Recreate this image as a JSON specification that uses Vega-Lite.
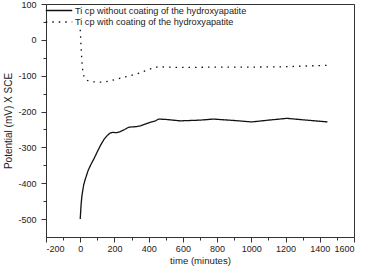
{
  "$schema": "https://vega.github.io/schema/vega-lite/v6.json",
  "width": 308,
  "height": 233,
  "autosize": {"type": "none"},
  "padding": {"left": 46, "top": 4, "right": 13, "bottom": 29},
  "background": "white",
  "config": {
    "view": {"stroke": "#333", "strokeWidth": 1},
    "font": "Liberation Sans",
    "axis": {"grid": false, "domainColor": "#333", "tickColor": "#333", "labelColor": "#222", "titleColor": "#222", "labelFont": "Liberation Sans", "titleFont": "Liberation Sans", "titleFontWeight": "normal", "labelFontSize": 9, "titleFontSize": 9.6}
  },
  "data": {
    "values": [
      {"series": "Ti cp without coating of the hydroxyapatite", "t": 0, "v": -500},
      {"series": "Ti cp without coating of the hydroxyapatite", "t": 5, "v": -460},
      {"series": "Ti cp without coating of the hydroxyapatite", "t": 10, "v": -435},
      {"series": "Ti cp without coating of the hydroxyapatite", "t": 20, "v": -405},
      {"series": "Ti cp without coating of the hydroxyapatite", "t": 30, "v": -388},
      {"series": "Ti cp without coating of the hydroxyapatite", "t": 45, "v": -366},
      {"series": "Ti cp without coating of the hydroxyapatite", "t": 60, "v": -350},
      {"series": "Ti cp without coating of the hydroxyapatite", "t": 80, "v": -332},
      {"series": "Ti cp without coating of the hydroxyapatite", "t": 100, "v": -312},
      {"series": "Ti cp without coating of the hydroxyapatite", "t": 120, "v": -293},
      {"series": "Ti cp without coating of the hydroxyapatite", "t": 140, "v": -277},
      {"series": "Ti cp without coating of the hydroxyapatite", "t": 160, "v": -266},
      {"series": "Ti cp without coating of the hydroxyapatite", "t": 175, "v": -260},
      {"series": "Ti cp without coating of the hydroxyapatite", "t": 190, "v": -258},
      {"series": "Ti cp without coating of the hydroxyapatite", "t": 210, "v": -259},
      {"series": "Ti cp without coating of the hydroxyapatite", "t": 234, "v": -256},
      {"series": "Ti cp without coating of the hydroxyapatite", "t": 260, "v": -250},
      {"series": "Ti cp without coating of the hydroxyapatite", "t": 282, "v": -244},
      {"series": "Ti cp without coating of the hydroxyapatite", "t": 300, "v": -243},
      {"series": "Ti cp without coating of the hydroxyapatite", "t": 330, "v": -242},
      {"series": "Ti cp without coating of the hydroxyapatite", "t": 351, "v": -240},
      {"series": "Ti cp without coating of the hydroxyapatite", "t": 380, "v": -235},
      {"series": "Ti cp without coating of the hydroxyapatite", "t": 410, "v": -230},
      {"series": "Ti cp without coating of the hydroxyapatite", "t": 440, "v": -226},
      {"series": "Ti cp without coating of the hydroxyapatite", "t": 458, "v": -221},
      {"series": "Ti cp without coating of the hydroxyapatite", "t": 500, "v": -222},
      {"series": "Ti cp without coating of the hydroxyapatite", "t": 584, "v": -226},
      {"series": "Ti cp without coating of the hydroxyapatite", "t": 700, "v": -224},
      {"series": "Ti cp without coating of the hydroxyapatite", "t": 778, "v": -221},
      {"series": "Ti cp without coating of the hydroxyapatite", "t": 900, "v": -225},
      {"series": "Ti cp without coating of the hydroxyapatite", "t": 1003, "v": -229},
      {"series": "Ti cp without coating of the hydroxyapatite", "t": 1100, "v": -224},
      {"series": "Ti cp without coating of the hydroxyapatite", "t": 1208, "v": -219},
      {"series": "Ti cp without coating of the hydroxyapatite", "t": 1300, "v": -223},
      {"series": "Ti cp without coating of the hydroxyapatite", "t": 1445, "v": -229},
      {"series": "Ti cp with coating of the hydroxyapatite", "t": 0, "v": 28},
      {"series": "Ti cp with coating of the hydroxyapatite", "t": 3, "v": 0},
      {"series": "Ti cp with coating of the hydroxyapatite", "t": 6, "v": -30},
      {"series": "Ti cp with coating of the hydroxyapatite", "t": 9, "v": -55},
      {"series": "Ti cp with coating of the hydroxyapatite", "t": 12, "v": -75},
      {"series": "Ti cp with coating of the hydroxyapatite", "t": 16, "v": -89},
      {"series": "Ti cp with coating of the hydroxyapatite", "t": 22, "v": -102},
      {"series": "Ti cp with coating of the hydroxyapatite", "t": 29, "v": -110},
      {"series": "Ti cp with coating of the hydroxyapatite", "t": 45, "v": -114},
      {"series": "Ti cp with coating of the hydroxyapatite", "t": 70, "v": -117},
      {"series": "Ti cp with coating of the hydroxyapatite", "t": 100, "v": -118},
      {"series": "Ti cp with coating of the hydroxyapatite", "t": 135, "v": -118},
      {"series": "Ti cp with coating of the hydroxyapatite", "t": 170, "v": -115},
      {"series": "Ti cp with coating of the hydroxyapatite", "t": 210, "v": -110},
      {"series": "Ti cp with coating of the hydroxyapatite", "t": 250, "v": -105},
      {"series": "Ti cp with coating of the hydroxyapatite", "t": 290, "v": -100},
      {"series": "Ti cp with coating of the hydroxyapatite", "t": 331, "v": -95},
      {"series": "Ti cp with coating of the hydroxyapatite", "t": 370, "v": -88},
      {"series": "Ti cp with coating of the hydroxyapatite", "t": 410, "v": -81},
      {"series": "Ti cp with coating of the hydroxyapatite", "t": 456, "v": -75},
      {"series": "Ti cp with coating of the hydroxyapatite", "t": 500, "v": -76},
      {"series": "Ti cp with coating of the hydroxyapatite", "t": 600, "v": -77},
      {"series": "Ti cp with coating of the hydroxyapatite", "t": 800, "v": -76},
      {"series": "Ti cp with coating of the hydroxyapatite", "t": 1000, "v": -76},
      {"series": "Ti cp with coating of the hydroxyapatite", "t": 1200, "v": -75},
      {"series": "Ti cp with coating of the hydroxyapatite", "t": 1445, "v": -71}
    ]
  },
  "layer": [
    {
      "mark": {"type": "line", "color": "#111", "strokeWidth": 1.3, "clip": true},
      "encoding": {
        "x": {
          "field": "t", "type": "quantitative",
          "scale": {"domain": [-200, 1600], "nice": false, "zero": false},
          "axis": {"title": "time (minutes)", "values": [-200, 0, 200, 400, 600, 800, 1000, 1200, 1400, 1600], "labelExpr": "datum.value", "tickSize": 5, "labelPadding": 2, "titlePadding": 2}
        },
        "y": {
          "field": "v", "type": "quantitative",
          "scale": {"domain": [-550, 100], "nice": false, "zero": false},
          "axis": {"title": "Potential (mV) X SCE", "titleFontSize": 10, "values": [-500, -400, -300, -200, -100, 0, 100], "labelExpr": "datum.value", "tickSize": 5, "labelPadding": 5, "titlePadding": 4}
        },
        "strokeDash": {
          "field": "series", "type": "nominal",
          "scale": {
            "domain": ["Ti cp without coating of the hydroxyapatite", "Ti cp with coating of the hydroxyapatite"],
            "range": [[1, 0], [1.5, 5]]
          },
          "legend": {
            "title": null, "orient": "none", "legendX": -1, "legendY": 1,
            "symbolType": "stroke", "symbolSize": 700, "symbolStrokeWidth": 1.3,
            "symbolStrokeColor": "#111", "labelFontSize": 9.2, "labelFont": "Liberation Sans",
            "labelColor": "#222", "labelLimit": 400, "clipHeight": 11, "rowPadding": 0.5, "labelOffset": 2, "padding": 0
          }
        }
      }
    },
    {
      "mark": {"type": "point", "opacity": 0},
      "encoding": {
        "x": {
          "field": "t", "type": "quantitative",
          "scale": {"domain": [-200, 1600], "nice": false, "zero": false},
          "axis": {"orient": "bottom", "title": null, "labels": false, "domain": false, "values": [-100, 100, 300, 500, 700, 900, 1100, 1300, 1500], "tickSize": 3}
        },
        "y": {
          "field": "v", "type": "quantitative",
          "scale": {"domain": [-550, 100], "nice": false, "zero": false},
          "axis": {"orient": "left", "title": null, "labels": false, "domain": false, "values": [-450, -350, -250, -150, -50, 50], "tickSize": 3}
        }
      }
    }
  ],
  "resolve": {"axis": {"x": "independent", "y": "independent"}}
}
